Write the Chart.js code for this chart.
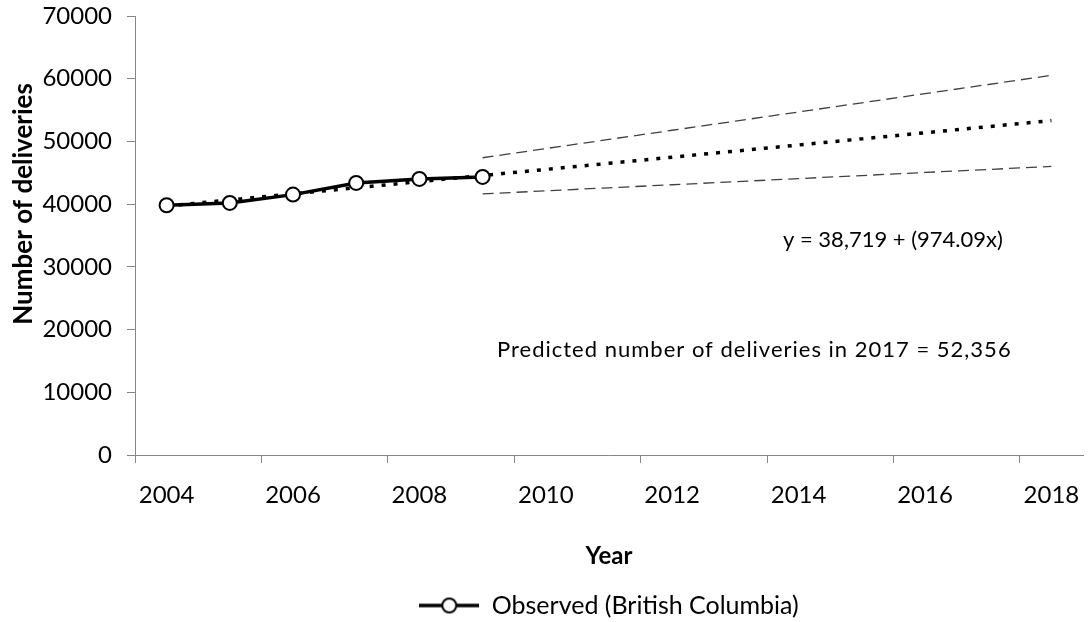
<!DOCTYPE html>
<html>
<head>
<meta charset="utf-8">
<script src="https://cdn.jsdelivr.net/npm/chart.js@4.4.0/dist/chart.umd.min.js"></script>
<style>
  html, body { margin: 0; padding: 0; background: #fff; }
  #wrap { width: 1092px; height: 622px; }
</style>
</head>
<body>
<div id="wrap"><canvas id="chart"></canvas></div>
<script>
// categories and values
var years = ['2004','2005','2006','2007','2008','2009','2010','2011','2012','2013','2014','2015','2016','2017','2018'];
var observed = [39820, 40200, 41520, 43380, 44020, 44340, null, null, null, null, null, null, null, null, null];
var trend = [39693, 40667, 41641, 42615, 43589, 44564, 45538, 46512, 47486, 48460, 49434, 50408, 51382, 52356, 53330];
var upper = [null, null, null, null, null, 47400, 48860, 50320, 51780, 53240, 54700, 56160, 57620, 59080, 60540];
var lower = [null, null, null, null, null, 41630, 42120, 42610, 43090, 43580, 44070, 44560, 45050, 45530, 46020];
var yTicks = [0, 10000, 20000, 30000, 40000, 50000, 60000, 70000];

var FONT = 'Lato, "Open Sans", sans-serif';
var AXIS = '#868686';

// legend symbol: line with open circle
var sym = document.createElement('canvas');
sym.width = 60; sym.height = 18;
(function(){
  var c = sym.getContext('2d');
  c.strokeStyle = '#000'; c.lineWidth = 3.5;
  c.beginPath(); c.moveTo(0, 9); c.lineTo(60, 9); c.stroke();
  c.beginPath(); c.arc(30, 9, 7, 0, Math.PI * 2);
  c.fillStyle = '#fff'; c.fill();
  c.lineWidth = 2; c.stroke();
})();

var notes = {
  id: 'notes',
  afterDatasetsDraw: function(chart){
    var ctx = chart.ctx;
    ctx.save();
    ctx.fillStyle = '#000';
    ctx.textBaseline = 'middle';
    ctx.font = '22px ' + FONT;
    ctx.textAlign = 'left';
    ctx.fillText('y = 38,719 + (974.09x)', 783, 240);
    ctx.letterSpacing = '1px';
    ctx.fillText('Predicted number of deliveries in 2017 = 52,356', 497, 350);
    ctx.restore();
  }
};

new Chart(document.getElementById('chart').getContext('2d'), {
  type: 'line',
  data: {
    labels: years,
    datasets: [{
      label: 'Observed (British Columbia)',
      data: observed,
      borderColor: '#000',
      borderWidth: 3.5,
      pointStyle: 'circle',
      pointRadius: 7,
      pointBackgroundColor: '#fff',
      pointBorderColor: '#000',
      pointBorderWidth: 2,
      order: 0
    },{
      label: 'Trend',
      data: trend,
      borderColor: '#000',
      borderWidth: 3.5,
      borderDash: [4, 8],
      pointRadius: 0,
      order: 1
    },{
      label: 'Upper',
      data: upper,
      borderColor: '#404040',
      borderWidth: 1.3,
      borderDash: [11, 6],
      pointRadius: 0,
      order: 2
    },{
      label: 'Lower',
      data: lower,
      borderColor: '#404040',
      borderWidth: 1.3,
      borderDash: [11, 6],
      pointRadius: 0,
      order: 2
    }]
  },
  options: {
    responsive: true,
    maintainAspectRatio: false,
    animation: false,
    layout: { padding: { top: 16, right: 0, bottom: -6, left: 0 } },
    plugins: {
      legend: {
        position: 'bottom',
        fullSize: false,
        labels: {
          usePointStyle: true,
          pointStyleWidth: 60,
          padding: 1,
          color: '#000',
          font: { family: FONT, size: 25 },
          filter: function(item){ return item.datasetIndex === 0; },
          generateLabels: function(chart){
            var items = Chart.defaults.plugins.legend.labels.generateLabels(chart);
            items.forEach(function(it){ it.pointStyle = sym; });
            return items;
          }
        }
      },
      tooltip: { enabled: false }
    },
    elements: { line: { tension: 0 } },
    scales: {
      x: {
        offset: true,
        grid: {
          offset: true,
          drawOnChartArea: false,
          tickLength: 8,
          color: function(ctx){ return ctx.index % 2 === 0 ? AXIS : 'rgba(0,0,0,0)'; }
        },
        border: { color: AXIS, width: 1 },
        ticks: {
          autoSkip: false,
          maxRotation: 0,
          padding: 18,
          color: '#000',
          font: { family: FONT, size: 24 },
          callback: function(v, i){ return i % 2 === 0 ? years[i] : ''; }
        },
        title: {
          display: true,
          text: 'Year',
          color: '#000',
          font: { family: FONT, size: 24, weight: 'bold' },
          padding: { top: 14, bottom: 21 }
        },
        afterFit: function(s){ s.height = 137; s.paddingLeft = 0; s.paddingRight = 0; }
      },
      y: {
        min: 0,
        max: 70000,
        afterBuildTicks: function(s){ s.ticks = yTicks.map(function(v){ return { value: v }; }); },
        grid: { drawOnChartArea: false, tickLength: 8, color: AXIS },
        border: { color: AXIS, width: 1 },
        ticks: {
          padding: 15,
          color: '#000',
          font: { family: FONT, size: 24 },
          callback: function(v){ return String(v); }
        },
        title: {
          display: true,
          text: '          Number of deliveries',
          color: '#000',
          font: { family: FONT, size: 26, weight: 'bold' },
          padding: { top: 8, bottom: 0 }
        },
        afterFit: function(s){ s.width = 135; s.paddingTop = 0; s.paddingBottom = 0; }
      }
    }
  },
  plugins: [notes]
});
</script>
</body>
</html>
